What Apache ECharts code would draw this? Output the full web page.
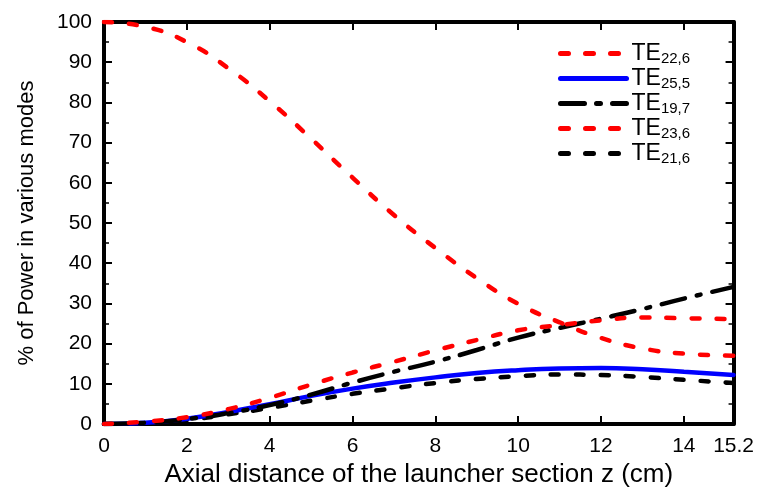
<!DOCTYPE html>
<html>
<head>
<meta charset="utf-8">
<script src="https://cdn.jsdelivr.net/npm/echarts@6/dist/echarts.min.js"></script>
<style>
  html, body { margin: 0; padding: 0; background: #fff; }
  #main { width: 757px; height: 496px; }
</style>
</head>
<body>
<div id="main"></div>
<script>
// axial position z (cm)
var zs = [0, 1, 2, 3, 4, 5, 6, 7, 8, 9, 10, 11, 12, 13, 14, 15.2]
// % of power per mode
var te226 = [100, 98.8, 95, 88.5, 80.3, 71, 61.3, 52, 43.8, 36.3, 29.9, 25.3, 21.4, 18.8, 17.5, 17]
var te255 = [0, 0.3, 1.3, 3.0, 4.9, 7.0, 8.8, 10.3, 11.6, 12.7, 13.4, 13.8, 13.9, 13.6, 13.0, 12.2]
var te197 = [0, 0.3, 1.2, 2.7, 4.7, 7.3, 10.3, 13.0, 15.5, 18.4, 21.5, 23.9, 26.2, 28.6, 31.2, 34.1]
var te236 = [0, 0.6, 1.7, 3.7, 6.5, 9.8, 12.8, 15.5, 18.3, 20.9, 23.3, 24.6, 25.8, 26.5, 26.3, 26.1]
var te216 = [0, 0.3, 1.0, 2.4, 4.0, 5.8, 7.5, 8.9, 10.2, 11.2, 11.9, 12.3, 12.2, 11.7, 11.0, 10.2]
var legendNames = ['TE22,6', 'TE25,5', 'TE19,7', 'TE23,6', 'TE21,6']

var chart = echarts.init(document.getElementById('main'))
var FONT = 'Liberation Sans, Arial, sans-serif'

function pairs (ys) {
  return zs.map(function (z, i) { return [z, ys[i]] })
}

function mkSeries (name, ys, color, type) {
  return {
    name: name,
    type: 'line',
    data: pairs(ys),
    smooth: true,
    showSymbol: false,
    symbol: 'none',
    lineStyle: { color: color, width: 4.5, type: type, cap: 'round' },
    itemStyle: { color: color }
  }
}

function axisCommon () {
  return {
    axisLine: { onZero: false, lineStyle: { color: '#000', width: 4 } },
    axisTick: { inside: true, length: 8, lineStyle: { color: '#000', width: 2 } },
    splitLine: { show: false }
  }
}

var yMinor = { show: true, splitNumber: 2, length: 5, lineStyle: { color: '#000', width: 1.5 } }
var DASH = [8, 17]

var option = {
  animation: false,
  grid: { left: 104, right: 23, top: 22, bottom: 72 },
  legend: {
    orient: 'vertical',
    left: 553,
    top: 36,
    itemWidth: 66,
    itemHeight: 14,
    itemGap: 0,
    data: legendNames,
    itemStyle: { opacity: 0 },
    lineStyle: { width: 5 },
    formatter: function (name) {
      return '{a|TE}{b|' + name.slice(2) + '}'
    },
    textStyle: {
      rich: {
        a: { fontFamily: FONT, fontSize: 23, lineHeight: 26, color: '#000' },
        b: { fontFamily: FONT, fontSize: 15, lineHeight: 16, color: '#000', padding: [10, 0, 0, 0] }
      }
    }
  },
  xAxis: [
    Object.assign({
      type: 'value', min: 0, max: 15.2, interval: 2,
      name: 'Axial distance of the launcher section z (cm)',
      nameLocation: 'middle', nameGap: 34,
      nameTextStyle: { fontFamily: FONT, fontSize: 26, color: '#000' },
      axisLabel: { fontFamily: FONT, fontSize: 21, color: '#000', margin: 12, showMaxLabel: true }
    }, axisCommon()),
    Object.assign({
      type: 'value', min: 0, max: 15.2, interval: 2, position: 'top',
      axisLabel: { show: false }
    }, axisCommon())
  ],
  yAxis: [
    Object.assign({
      type: 'value', min: 0, max: 100, interval: 10,
      name: '% of Power in various modes',
      nameLocation: 'middle', nameGap: 66,
      nameTextStyle: { fontFamily: FONT, fontSize: 22, color: '#000' },
      axisLabel: { fontFamily: FONT, fontSize: 21, color: '#000', margin: 12 },
      minorTick: yMinor
    }, axisCommon()),
    Object.assign({
      type: 'value', min: 0, max: 100, interval: 10, position: 'right',
      axisLabel: { show: false },
      minorTick: yMinor
    }, axisCommon())
  ],
  series: [
    mkSeries('TE21,6', te216, '#000', DASH),
    mkSeries('TE25,5', te255, '#0000ff', 'solid'),
    mkSeries('TE19,7', te197, '#000', [24, 12, 4, 12]),
    mkSeries('TE23,6', te236, '#ff0000', DASH),
    mkSeries('TE22,6', te226, '#ff0000', DASH)
  ]
}

chart.setOption(option)
</script>
</body>
</html>
